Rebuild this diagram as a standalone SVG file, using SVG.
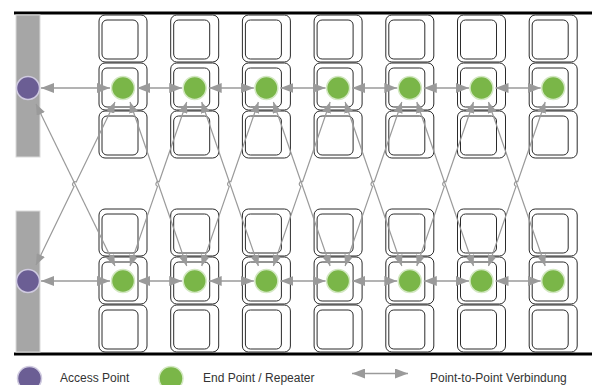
<svg xmlns="http://www.w3.org/2000/svg" xmlns:xlink="http://www.w3.org/1999/xlink" width="597" height="385" viewBox="0 0 597 385">
<style>
.outer,.inner{fill:#fff;stroke:#2b2b2b;stroke-width:1}
.bar{fill:#a6a6a6;stroke:#dadada;stroke-width:1}
.ap{fill:#6b5e94;stroke:#d0cbe0;stroke-width:1.5}
.ep{fill:#7ab648;stroke:#d3e8c2;stroke-width:1.5}
.rail{stroke:#000;stroke-width:3}
.h{fill:none;stroke:#9a9a9a;stroke-width:1.4;marker-start:url(#ah);marker-end:url(#ah)}
.d{fill:none;stroke:#9a9a9a;stroke-width:1.2;marker-start:url(#ad);marker-end:url(#ad)}
.lbl{font-family:"Liberation Sans",Arial,sans-serif;font-size:12px;fill:#333}
</style>
<defs>
<marker id="ah" markerUnits="userSpaceOnUse" markerWidth="13" markerHeight="10" refX="13" refY="5" orient="auto-start-reverse"><path d="M0,0 L13,5 L0,10 z" fill="#9a9a9a"/></marker>
<marker id="ad" markerUnits="userSpaceOnUse" markerWidth="11" markerHeight="9" refX="11" refY="4.5" orient="auto-start-reverse"><path d="M0,0 L11,4.5 L0,9 z" fill="#9a9a9a"/></marker>
<g id="tile"><rect class="outer" x="0" y="0" width="48" height="47" rx="6"/><rect class="inner" x="3" y="5" width="36" height="39" rx="5"/></g>
<g id="col"><use xlink:href="#tile" y="15"/><use xlink:href="#tile" y="63"/><use xlink:href="#tile" y="111"/><use xlink:href="#tile" y="209"/><use xlink:href="#tile" y="257"/><use xlink:href="#tile" y="305"/></g>
<g id="pair"><path class="d" d="M7,102 L63.7,266"/><path class="d" d="M7,266 L34.53,186.36 A2.5,2.5 0 0 1 36.17,181.64 L63.7,102"/><path class="h" d="M14,88 L59.2,88"/><path class="h" d="M14,281 L59.2,281"/></g>
</defs>
<g id="rails"><line class="rail" x1="14" y1="13" x2="592" y2="13"/><line class="rail" x1="14" y1="354" x2="592" y2="354"/></g>
<g id="tiles">
<use xlink:href="#col" x="99"/><use xlink:href="#col" x="170.7"/><use xlink:href="#col" x="242.4"/><use xlink:href="#col" x="314.1"/><use xlink:href="#col" x="385.8"/><use xlink:href="#col" x="457.5"/><use xlink:href="#col" x="529.2"/>
</g>
<g id="bars"><rect class="bar" x="16" y="15" width="24" height="142"/><rect class="bar" x="16" y="211" width="24" height="141"/></g>
<g id="connectors">
<path class="d" d="M36,104 L115,266"/>
<path class="d" d="M36,265 L74.04,186.5 A2.5,2.5 0 0 1 76.22,182 L115,102"/>
<path class="h" d="M41,88 L110,88"/>
<path class="h" d="M41,281 L110,281"/>
<use xlink:href="#pair" x="123"/><use xlink:href="#pair" x="194.7"/><use xlink:href="#pair" x="266.4"/><use xlink:href="#pair" x="338.1"/><use xlink:href="#pair" x="409.8"/><use xlink:href="#pair" x="481.5"/>
</g>
<g id="ap-top"><circle class="ap" cx="28" cy="88" r="11.5"/></g>
<g id="ap-bottom"><circle class="ap" cx="28" cy="281" r="11.5"/></g>
<g id="ep-top-1"><circle class="ep" cx="123" cy="88" r="11.5"/></g>
<g id="ep-top-2"><circle class="ep" cx="194.7" cy="88" r="11.5"/></g>
<g id="ep-top-3"><circle class="ep" cx="266.4" cy="88" r="11.5"/></g>
<g id="ep-top-4"><circle class="ep" cx="338.1" cy="88" r="11.5"/></g>
<g id="ep-top-5"><circle class="ep" cx="409.8" cy="88" r="11.5"/></g>
<g id="ep-top-6"><circle class="ep" cx="481.5" cy="88" r="11.5"/></g>
<g id="ep-top-7"><circle class="ep" cx="553.2" cy="88" r="11.5"/></g>
<g id="ep-bottom-1"><circle class="ep" cx="123" cy="281" r="11.5"/></g>
<g id="ep-bottom-2"><circle class="ep" cx="194.7" cy="281" r="11.5"/></g>
<g id="ep-bottom-3"><circle class="ep" cx="266.4" cy="281" r="11.5"/></g>
<g id="ep-bottom-4"><circle class="ep" cx="338.1" cy="281" r="11.5"/></g>
<g id="ep-bottom-5"><circle class="ep" cx="409.8" cy="281" r="11.5"/></g>
<g id="ep-bottom-6"><circle class="ep" cx="481.5" cy="281" r="11.5"/></g>
<g id="ep-bottom-7"><circle class="ep" cx="553.2" cy="281" r="11.5"/></g>
<g id="legend">
<circle class="ap" cx="29.5" cy="378.5" r="12"/>
<text class="lbl" x="60" y="382">Access Point</text>
<circle class="ep" cx="171" cy="378.5" r="12"/>
<text class="lbl" x="203" y="382">End Point / Repeater</text>
<path class="h" d="M352,373.5 L408,373.5"/>
<text class="lbl" x="430" y="382">Point-to-Point Verbindung</text>
</g>
</svg>
